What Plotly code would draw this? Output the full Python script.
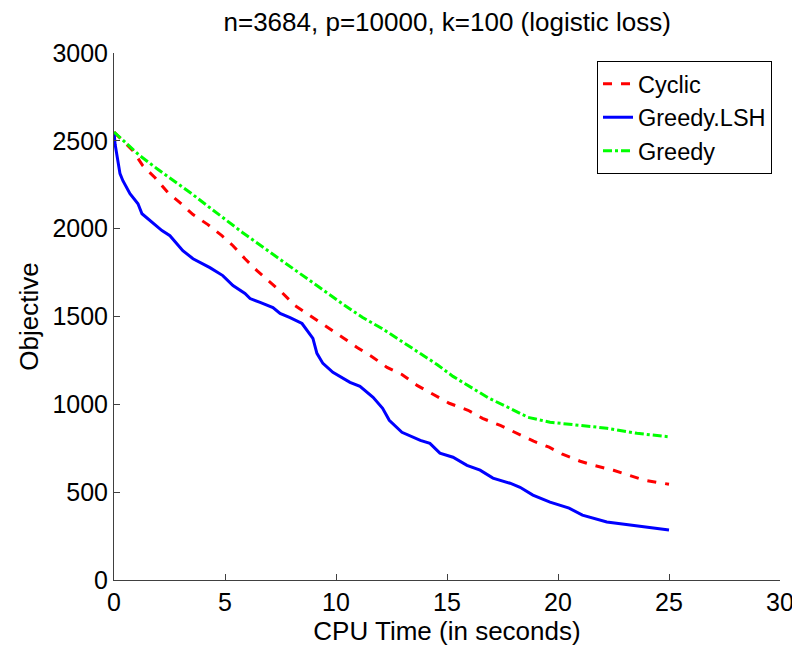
import plotly.graph_objects as go

# Cyclic (red dashed)
cyc_x = [0, 0.86, 1.3, 1.85, 2.43, 2.97, 3.56, 4.23, 4.86, 5.36, 5.9, 6.44, 6.94, 7.57, 8.15,
         8.83, 9.41, 10.3, 10.95, 11.67, 12.3, 12.97, 13.65, 14.23, 15.1, 15.95, 16.6, 17.4,
         18.15, 18.9, 19.6, 20.2, 21.0, 21.6, 22.5, 23.15, 23.9, 25.0]
cyc_y = [2550, 2443, 2358, 2290, 2205, 2148, 2080, 2023, 1960, 1903, 1829, 1761, 1705, 1636, 1563,
         1506, 1460, 1381, 1324, 1267, 1210, 1170, 1108, 1068, 1006, 966, 920, 880,
         835, 790, 756, 716, 676, 653, 625, 597, 568, 545]

# Greedy.LSH (blue solid)
lsh_x = [0, 0.05, 0.27, 0.4, 0.72, 1.08, 1.26, 1.62, 2.16, 2.52, 3.1, 3.56, 4.32, 4.9, 5.36,
         5.9, 6.13, 6.58, 7.16, 7.48, 7.93, 8.47, 8.7, 8.96, 9.14, 9.41, 9.86, 10.18, 10.63,
         11.08, 11.67, 12.1, 12.4, 12.97, 13.8, 14.23, 14.68, 15.27, 15.9, 16.49, 17.07,
         17.84, 18.29, 18.87, 19.64, 20.5, 21.1, 22.2, 23.56, 24.1, 25.0]
lsh_y = [2550, 2480, 2313, 2273, 2199, 2142, 2085, 2045, 1989, 1960, 1875, 1829, 1778, 1733, 1676,
         1631, 1602, 1580, 1551, 1517, 1494, 1460, 1420, 1375, 1290, 1233, 1182, 1159, 1125,
         1102, 1040, 977, 909, 841, 795, 778, 722, 699, 653, 625, 580,
         551, 528, 483, 443, 409, 369, 330, 307, 295, 284]

# Greedy (green dash-dot)
grd_x = [0, 1.17, 1.94, 2.84, 3.5, 4.32, 4.9, 5.8, 10.27, 11.2, 12.07, 12.9, 13.7, 14.55, 15.27,
         16.1, 16.9, 17.84, 18.65, 19.64, 20.7, 22.2, 23.56, 24.7, 25.0]
grd_y = [2550, 2415, 2341, 2261, 2199, 2119, 2062, 1977, 1574, 1494, 1432, 1364, 1295, 1227, 1159,
         1097, 1034, 977, 926, 898, 883, 864, 835, 818, 815]

x_ticks = [0, 5, 10, 15, 20, 25, 30]
y_ticks = [0, 500, 1000, 1500, 2000, 2500, 3000]

FONT = "Liberation Sans, Arial, Helvetica, sans-serif"

fig = go.Figure()
fig.add_trace(go.Scatter(x=cyc_x, y=cyc_y, mode="lines", name="Cyclic",
                         line=dict(color="#ff0000", width=3, dash="dash")))
fig.add_trace(go.Scatter(x=lsh_x, y=lsh_y, mode="lines", name="Greedy.LSH",
                         line=dict(color="#0000ff", width=3)))
fig.add_trace(go.Scatter(x=grd_x, y=grd_y, mode="lines", name="Greedy",
                         line=dict(color="#00ff00", width=3, dash="dashdot")))

axis_common = dict(showgrid=False, zeroline=False, showline=True, linecolor="#404040",
                   linewidth=1, ticks="inside", ticklen=6, tickcolor="#404040",
                   tickfont=dict(size=25, color="black", family=FONT), mirror=False,
                   automargin=False)

fig.update_layout(
    width=800, height=645,
    paper_bgcolor="white", plot_bgcolor="white",
    margin=dict(l=106, r=28, t=45, b=73),
    font=dict(family=FONT, color="black"),
    title=dict(text="n=3684, p=10000, k=100 (logistic loss)", x=0.549, xanchor="center",
               xref="container", yref="container",
               y=0.978, yanchor="middle", font=dict(size=26, family=FONT, color="black")),
    xaxis=dict(range=[0, 30], tickvals=x_ticks,
               title=dict(text="CPU Time (in seconds)", font=dict(size=26, family=FONT), standoff=0),
               **axis_common),
    yaxis=dict(range=[0, 3000], tickvals=y_ticks,
               title=dict(text="Objective", font=dict(size=26, family=FONT), standoff=6),
               **axis_common),
    legend=dict(x=0.988, y=0.985, xanchor="right", yanchor="top",
                bordercolor="black", borderwidth=1, bgcolor="white",
                font=dict(size=23.5, family=FONT, color="black"),
                tracegroupgap=0),
    showlegend=True,
)

fig.write_html("out.html")
